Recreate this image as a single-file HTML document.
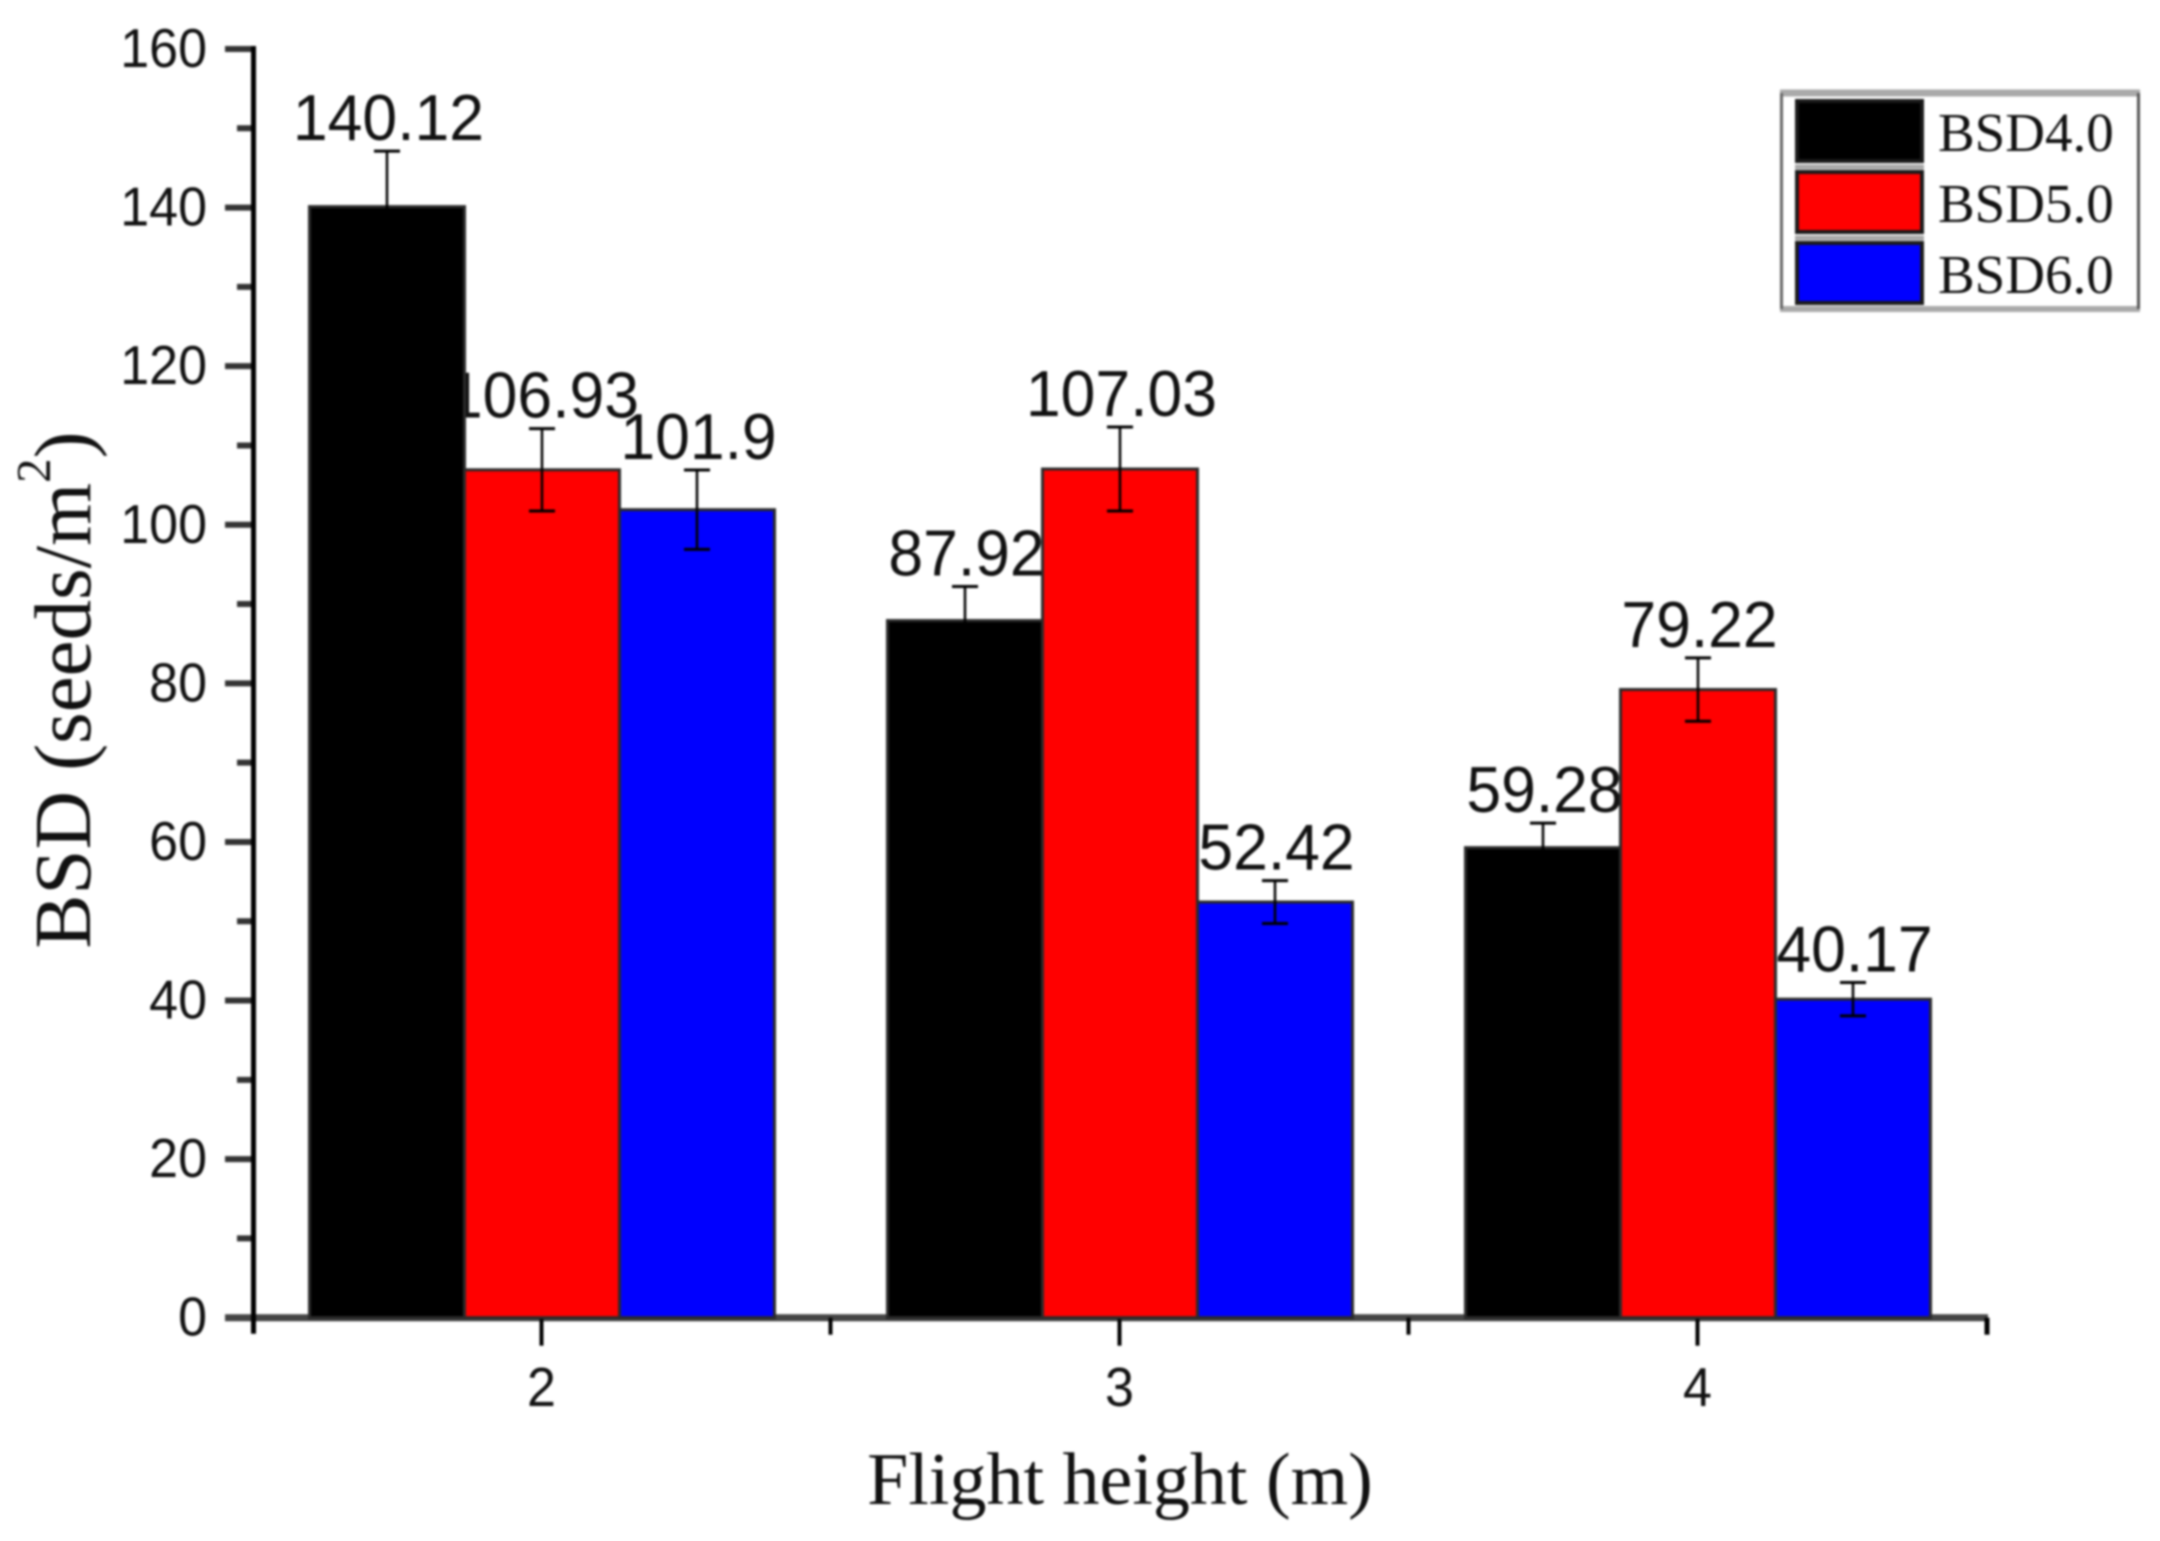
<!DOCTYPE html>
<html lang="en">
<head>
<meta charset="utf-8">
<title>BSD by flight height</title>
<style>
html,body{margin:0;padding:0;background:#fff;width:2160px;height:1541px;overflow:hidden}
#chart{display:block;filter:blur(1px)}
text{fill:#111}
.sans{font-family:"Liberation Sans",Arial,sans-serif}
.serif{font-family:"Liberation Serif","Times New Roman",serif}
</style>
</head>
<body>
<svg id="chart" xmlns="http://www.w3.org/2000/svg" width="2160" height="1541" viewBox="0 0 2160 1541">
  <text class="serif" x="1120" y="1504" font-size="74" text-anchor="middle">Flight height (m)</text>
  <text class="serif" transform="translate(90 690) rotate(-90)" font-size="81" text-anchor="middle">BSD (seeds/m<tspan dy="-40" font-size="49">2</tspan><tspan dy="40">)</tspan></text>
</svg>
<script>
const categories = ["2", "3", "4"];
const seriesNames = ["BSD4.0", "BSD5.0", "BSD6.0"];
const bsd40 = [140.12, 87.92, 59.28];
const bsd50 = [106.93, 107.03, 79.22];
const bsd60 = [101.9, 52.42, 40.17];
const err40 = [7, 4.3, 3.1];
const err50 = [5.2, 5.3, 4];
const err60 = [5, 2.7, 2.1];
const valueLabels40 = ["140.12", "87.92", "59.28"];
const valueLabels50 = ["106.93", "107.03", "79.22"];
const valueLabels60 = ["101.9", "52.42", "40.17"];
const yTickLabels = ["0", "20", "40", "60", "80", "100", "120", "140", "160"];

const seriesValues = [bsd40, bsd50, bsd60];
const seriesErrors = [err40, err50, err60];
const seriesLabels = [valueLabels40, valueLabels50, valueLabels60];
const seriesColors = ["#000000", "#ff0000", "#0000ff"];

const svg = document.getElementById('chart');
const NS = 'http://www.w3.org/2000/svg';
const plotLeft = 253.5, plotRight = 1987, plotTop = 49, plotBottom = 1317.7;
const groupStart = 541.5, groupStep = 578, barWidth = 155;
const yMax = 160;

function yScale(v) { return plotBottom - (v / yMax) * (plotBottom - plotTop); }
function xScale(i) { return groupStart + i * groupStep; }
function barLeft(g, s) { return xScale(g) + (s - 1.5) * barWidth + 0.5; }

function make(tag, attrs, text) {
  const n = document.createElementNS(NS, tag);
  for (const k in attrs) n.setAttribute(k, attrs[k]);
  if (text !== undefined) n.textContent = text;
  svg.appendChild(n);
  return n;
}
function line(x1, y1, x2, y2, width, color) {
  return make('line', { x1: x1, y1: y1, x2: x2, y2: y2, stroke: color || '#111111', 'stroke-width': width });
}
function tallText(x, y, scaleY, size, anchor, content) {
  return make('text', {
    class: 'sans', transform: 'translate(' + x + ' ' + y + ') scale(1 ' + scaleY + ')',
    'font-size': size, 'text-anchor': anchor
  }, content);
}

/* value labels go first: neighbouring bars cover them, as in the original */
seriesValues.forEach((vals, s) => {
  vals.forEach((v, g) => {
    const t = tallText(barLeft(g, s) + barWidth / 2 + 1.5, yScale(v + seriesErrors[s][g]) - 11, 1.04, 62.5, 'middle', seriesLabels[s][g]);
    
    
  });
});

/* y axis */
yTickLabels.forEach((lab) => {
  const v = Number(lab);
  const tick = line(225, yScale(v), plotLeft, yScale(v), 6, '#333333');
  
  
  const t = tallText(207, yScale(v) + 18, 1.06, 52, 'end', lab);
  
  
  if (v < yMax) {
    const minor = line(237, yScale(v + 10), plotLeft, yScale(v + 10), 6, '#333333');
    
    
  }
});

/* x axis */
const xAxisLine = line(225, plotBottom, plotRight + 1, plotBottom, 7, '#444444');



const yAxisLine = line(plotLeft, plotTop - 3, plotLeft, plotBottom + 16, 5, '#000000');



const xMinorStart = line(plotRight, plotBottom, plotRight, plotBottom + 17, 5, '#000000');



categories.forEach((cat, g) => {
  const tick = line(xScale(g), plotBottom, xScale(g), plotBottom + 28, 4, '#000000');
  
  
  if (g < categories.length - 1) {
    const minor = line(xScale(g) + groupStep / 2, plotBottom, xScale(g) + groupStep / 2, plotBottom + 17, 4, '#000000');
    
    
  }
  const t = tallText(xScale(g), 1406, 1.06, 52, 'middle', cat);
  
  
});

/* bars */
seriesValues.forEach((vals, s) => {
  vals.forEach((v, g) => {
    const r = make('rect', {
      x: barLeft(g, s), y: yScale(v), width: barWidth, height: plotBottom - yScale(v),
      fill: seriesColors[s], stroke: '#2a2a2a', 'stroke-width': 3
    });
    
    
  });
});

/* error bars */
seriesValues.forEach((vals, s) => {
  vals.forEach((v, g) => {
    const cx = barLeft(g, s) + barWidth / 2;
    const top = yScale(v + seriesErrors[s][g]);
    const bottom = yScale(v - seriesErrors[s][g]);
    const stem = line(cx, top, cx, bottom, 2.5, '#000000');
    
    
    const capTop = line(cx - 13, top, cx + 13, top, 3, '#000000');
    
    
    const capBottom = line(cx - 13, bottom, cx + 13, bottom, 3, '#000000');
    
    
  });
});

/* legend */
const legendFill = make('rect', { x: 1781, y: 93, width: 358, height: 216, fill: '#ffffff' });


const legendTop = line(1780, 93, 2140, 93, 7, '#aaaaaa');


const legendBottom = line(1780, 309, 2140, 309, 6, '#aaaaaa');


const legendLeft = line(1781.5, 93, 1781.5, 309, 3, '#666666');


const legendRight = line(2138.5, 93, 2138.5, 309, 3, '#555555');



seriesNames.forEach((name, s) => {
  const rowTop = 100 + s * 71;
  const swatch = make('rect', {
    x: 1797, y: rowTop + 1, width: 125, height: 60,
    fill: seriesColors[s], stroke: '#1a1a1a', 'stroke-width': 4
  });
  
  
  if (s < seriesNames.length - 1) {
    const band = line(1795, rowTop + 67, 1924, rowTop + 67, 5, '#aaaaaa');
    
    
  }
  const t = make('text', {
    class: 'serif', x: 1938, y: rowTop + 51, 'font-size': 55
  }, name);
  
  
});
</script>
</body>
</html>
